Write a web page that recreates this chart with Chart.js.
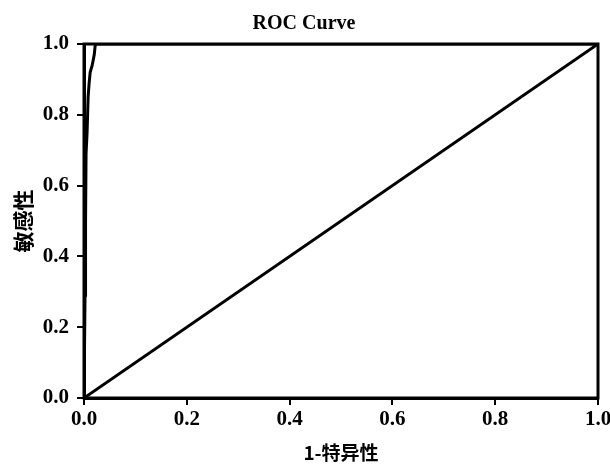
<!DOCTYPE html>
<html>
<head>
<meta charset="utf-8">
<script src="https://cdn.jsdelivr.net/npm/chart.js@4"></script>
<style>
  body { margin: 0; background: #fff; }
  canvas { display: block; }
</style>
</head>
<body>
<canvas id="rocChart" width="610" height="464"></canvas>
<script>
// 1-specificity / sensitivity
const rocFpr = [0, 0.002, 0.003, 0.004, 0.006, 0.008, 0.010, 0.012, 0.016, 0.020, 0.022, 1.0];
const rocTpr = [0, 0.29, 0.50, 0.69, 0.75, 0.85, 0.89, 0.92, 0.94, 0.97, 1.0, 1.0];
const refFpr = [0, 1];
const refTpr = [0, 1];
const tickValues = [0, 0.2, 0.4, 0.6, 0.8, 1.0];

const toPoints = (xs, ys) => xs.map((x, i) => ({ x: x, y: ys[i] }));

const serif = "'Liberation Serif', 'DejaVu Serif', serif";
const cjk = "'Noto Sans CJK SC', " + serif;

// box round the plot area
const frame = {
  id: "frame",
  afterDraw(chart) {
    const { ctx, chartArea: a } = chart;
    ctx.save();
    ctx.strokeStyle = "#000";
    ctx.lineWidth = 3;
    ctx.strokeRect(a.left, a.top, a.right - a.left, a.bottom - a.top);
    ctx.restore();
  }
};

const axis = (title, titleSize, tickPad) => ({
  type: "linear",
  min: 0,
  max: 1,
  afterBuildTicks: (s) => { s.ticks = tickValues.map(v => ({ value: v })); },
  border: { display: true, color: "#000", width: 3 },
  grid: { display: true, drawOnChartArea: false, drawTicks: true, tickLength: 7, color: "#000", lineWidth: 2 },
  ticks: {
    color: "#000",
    font: { family: serif, size: 21, weight: "bold" },
    padding: tickPad,
    callback: (v) => v.toFixed(1)
  },
  title: { display: true, text: title, color: "#000", font: { family: cjk, size: titleSize, weight: "bold" } }
});

const xAxis = axis("1-特异性", 19, 2);
xAxis.title.padding = { top: 8, bottom: 0 };
xAxis.afterFit = (s) => { s.height = 66; s.paddingLeft = 0; s.paddingRight = 0; };

const yAxis = axis("敏感性", 21, 8);
yAxis.title.padding = { top: 0, bottom: 18 };
yAxis.afterFit = (s) => { s.width = 74; };

new Chart(document.getElementById("rocChart").getContext("2d"), {
  type: "scatter",
  data: {
    datasets: [
      {
        label: "ROC",
        data: toPoints(rocFpr, rocTpr),
        showLine: true,
        borderColor: "#000",
        borderWidth: 3,
        pointRadius: 0,
        tension: 0
      },
      {
        label: "Reference",
        data: toPoints(refFpr, refTpr),
        showLine: true,
        borderColor: "#000",
        borderWidth: 3,
        pointRadius: 0
      }
    ]
  },
  options: {
    responsive: false,
    animation: false,
    layout: { padding: { left: 10, right: 12, top: 0, bottom: 0 } },
    plugins: {
      legend: { display: false },
      tooltip: { enabled: false },
      title: {
        display: true,
        text: "ROC Curve",
        color: "#000",
        font: { family: serif, size: 20, weight: "bold" },
        padding: { top: 12, bottom: 8 }
      }
    },
    scales: { x: xAxis, y: yAxis }
  },
  plugins: [frame]
});
</script>
</body>
</html>
